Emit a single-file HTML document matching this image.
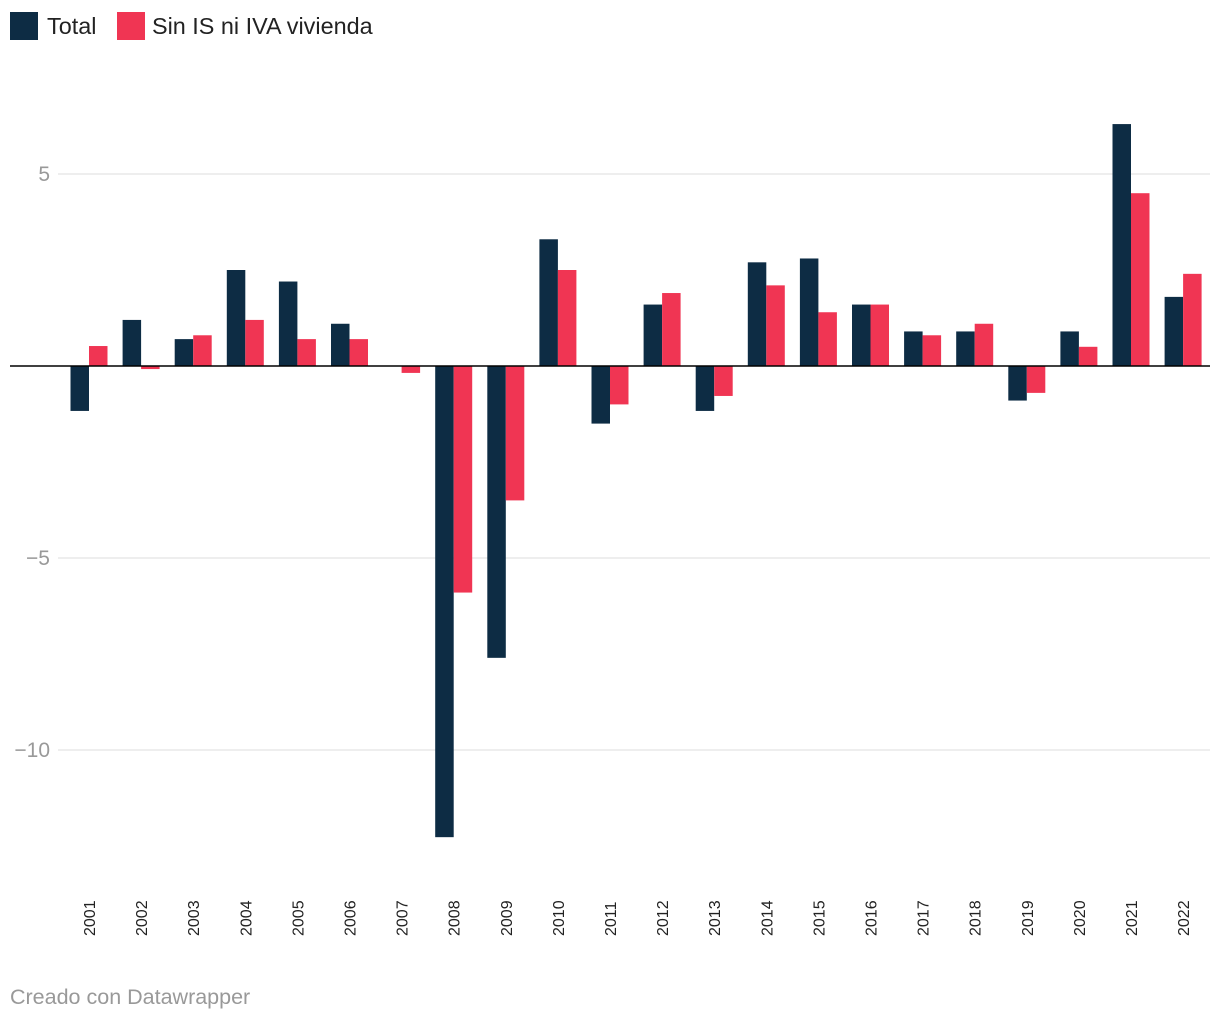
<!DOCTYPE html>
<html><head><meta charset="utf-8">
<style>
body{margin:0;background:#fff;font-family:"Liberation Sans",Arial,sans-serif;}
svg{display:block}
</style></head>
<body>
<svg id="chart" width="1220" height="1020" xmlns="http://www.w3.org/2000/svg">
<g>
 <rect x="10" y="12" width="28" height="28" fill="#0d2c44"/>
 <text x="47" y="34" font-size="23.4" fill="#222">Total</text>
 <rect x="117" y="12" width="28" height="28" fill="#f03553"/>
 <text x="152" y="34" font-size="23.4" fill="#222">Sin IS ni IVA vivienda</text>
</g>
<g id="grid"></g>
<g id="bars"></g>
<g id="xlabels"></g>
<line id="zero" x1="10" x2="1210" stroke="#000" stroke-width="1.5"/>
<text x="10" y="1004" font-size="21.5" fill="#999">Creado con Datawrapper</text>
</svg>
<script>
const years=["2001","2002","2003","2004","2005","2006","2007","2008","2009","2010","2011","2012","2013","2014","2015","2016","2017","2018","2019","2020","2021","2022"];
const totalValues=[-1.17,1.2,0.7,2.5,2.2,1.1,0,-12.27,-7.6,3.3,-1.5,1.6,-1.17,2.7,2.8,1.6,0.9,0.9,-0.9,0.9,6.3,1.8];
const sinIsValues=[0.52,-0.08,0.8,1.2,0.7,0.7,-0.18,-5.9,-3.5,2.5,-1.0,1.9,-0.78,2.1,1.4,1.6,0.8,1.1,-0.7,0.5,4.5,2.4];
const yTicks=[5,0,-5,-10];
const yTickLabels=["5","","−5","−10"];
const NS="http://www.w3.org/2000/svg";
function y(v){return 366-v*38.4;}
function xc(i){return 89+i*52.1;}
const grid=document.getElementById('grid');
yTicks.forEach((t,i)=>{
  if(t!==0){
    const l=document.createElementNS(NS,'line');
    
    
    l.setAttribute('x1',58);l.setAttribute('x2',1210);
    l.setAttribute('y1',y(t));l.setAttribute('y2',y(t));
    l.setAttribute('stroke','#ddd');l.setAttribute('stroke-width','1');
    grid.appendChild(l);
    const tx=document.createElementNS(NS,'text');
    
    
    tx.setAttribute('x',50);tx.setAttribute('y',y(t)+7);
    tx.setAttribute('text-anchor','end');tx.setAttribute('font-size','21');tx.setAttribute('fill','#999');
    tx.textContent=yTickLabels[i];
    grid.appendChild(tx);
  }
});
const z=document.getElementById('zero');z.setAttribute('y1',y(0));z.setAttribute('y2',y(0));
const bars=document.getElementById('bars'),xl=document.getElementById('xlabels');
function bar(x,v,color,name){
  const r=document.createElementNS(NS,'rect');
  
  
  const top=Math.min(y(v),y(0)),h=Math.abs(y(v)-y(0));
  r.setAttribute('x',x);r.setAttribute('y',top);r.setAttribute('width',18.5);r.setAttribute('height',h);
  r.setAttribute('fill',color);
  bars.appendChild(r);
}
years.forEach((yr,i)=>{
  bar(xc(i)-18.5,totalValues[i],'#0d2c44','bar-total');
  bar(xc(i),sinIsValues[i],'#f03553','bar-sin-is');
  const t=document.createElementNS(NS,'text');
  
  
  t.setAttribute('transform','translate('+(xc(i)+6)+',936) rotate(-90)');
  t.setAttribute('font-size','16');t.setAttribute('fill','#222');
  t.textContent=yr;
  xl.appendChild(t);
});
</script>
</body></html>
